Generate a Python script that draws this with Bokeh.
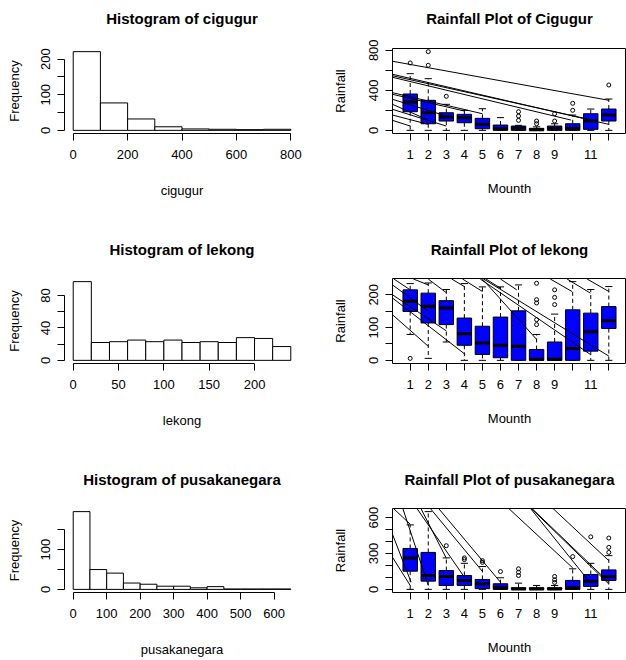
from bokeh.plotting import figure
from bokeh.layouts import column, row
from bokeh.models import FixedTicker, Range1d
from bokeh.core.properties import value
from bokeh.embed import file_html
from bokeh.resources import INLINE

FONT = "Liberation Sans"

# ---------------- data ----------------
months = list(range(1, 13))

# histograms (breaks and counts)
cig_breaks = [0, 100, 200, 300, 400, 500, 600, 700, 800]
cig_counts = [221, 77, 32, 10, 4, 3, 2, 3]
lek_breaks = [0, 20, 40, 60, 80, 100, 120, 140, 160, 180, 200, 220, 240]
lek_counts = [97, 22, 23, 25, 23, 25, 22, 23, 22, 28, 27, 17]
pus_breaks = [0, 50, 100, 150, 200, 250, 300, 350, 400, 450, 500, 550, 600, 650]
pus_counts = [196, 50, 41, 16, 13, 8, 8, 4, 7, 1, 1, 1, 1]

# boxplot statistics per month
cig_q1 = [186, 66, 93, 76, 16, 0, 0, 0, 0, 0, 10, 93]
cig_med = [283, 176, 133, 126, 60, 17, 20, 5, 20, 20, 93, 153]
cig_q3 = [363, 300, 176, 160, 120, 53, 43, 20, 43, 66, 166, 213]
cig_lo = [0, 0, 0, 0, 0, 0, 0, 0, 0, 0, 0, 0]
cig_hi = [566, 516, 260, 200, 216, 127, 50, 35, 66, 153, 213, 313]
cig_out_m = [1, 2, 2, 3, 7, 7, 7, 8, 8, 9, 9, 10, 10, 12]
cig_out_v = [673, 650, 786, 340, 186, 143, 100, 93, 66, 166, 93, 270, 200, 453]

lek_q1 = [149, 114, 109, 46, 18, 8, 0, 0, 0, 0, 28, 97]
lek_med = [180, 165, 160, 81, 53, 46, 43, 3, 3, 36, 87, 121]
lek_q3 = [215, 205, 182, 129, 104, 132, 151, 33, 56, 154, 144, 164]
lek_lo = [79, 6, 56, 0, 0, 0, 0, 0, 0, 0, 0, 0]
lek_hi = [234, 236, 216, 234, 224, 224, 230, 79, 141, 240, 216, 225]
lek_out_m = [1, 8, 8, 8, 8, 8, 9, 9, 9]
lek_out_v = [6, 235, 185, 175, 124, 109, 215, 192, 170]

pus_q1 = [152, 69, 33, 33, 6, 0, 0, 0, 0, 0, 25, 75]
pus_med = [263, 116, 108, 75, 47, 14, 4, 4, 4, 14, 69, 108]
pus_q3 = [342, 309, 157, 116, 83, 47, 14, 14, 14, 75, 124, 163]
pus_lo = [0, 0, 0, 0, 0, 0, 0, 0, 0, 0, 0, 0]
pus_hi = [539, 650, 263, 218, 191, 97, 52, 33, 33, 172, 218, 282]
pus_out_m = [3, 4, 4, 5, 5, 6, 7, 7, 7, 9, 9, 9, 10, 11, 12, 12, 12]
pus_out_v = [365, 263, 249, 240, 226, 149, 172, 143, 116, 108, 80, 58, 274, 439, 429, 351, 309]

# stray straight lines drawn over the boxplots (x0, y0, x1, y1 in data units)
cig_lx0 = [0.02, 0.02, 0.02, 0.02, 0.02, 0.02, 0.02, 0.02, 0.02, 0.02, 0.02]
cig_ly0 = [690, 560, 545, 530, 376, 360, 310, 260, 210, 153, 100]
cig_lx1 = [12.0, 12.0, 11.4, 9.9, 5.0, 4.0, 3.0, 2.0, 3.0, 2.0, 1.0]
cig_ly1 = [300, 60, 90, 103, 166, 193, 143, 103, 43, 60, 43]

lek_lx0 = [0.1, 0.02, 0.02, 0.02, 0.02, 1.18, 2.0, 3.3, 3.9, 5.0, 4.88, 5.07, 5.2, 6.0, 8.76, 9.69, 10.8]
lek_ly0 = [248, 230, 200, 190, 139, 248, 248, 248, 248, 248, 248, 248, 248, 248, 248, 248, 248]
lek_lx1 = [1.0, 2.0, 3.0, 4.05, 2.0, 2.0, 3.03, 4.0, 5.0, 8.0, 10.98, 12.0, 6.0, 6.9, 9.96, 10.98, 12.0]
lek_ly1 = [215, 150, 90, 18, 43, 230, 205, 225, 210, 64, 18, 13, 220, 215, 210, 205, 210]

pus_lx0 = [0.07, 0.02, 0.02, 0.59, 1.37, 1.59, 2.11, 2.57, 6.45, 7.66, 7.70, 7.74, 8.9]
pus_ly0 = [677, 460, 268, 677, 677, 677, 677, 677, 677, 677, 677, 677, 677]
pus_lx1 = [1.0, 1.05, 1.0, 2.0, 4.0, 3.0, 5.0, 6.0, 10.0, 11.0, 12.0, 12.0, 12.0]
pus_ly1 = [545, 60, 33, 33, 102, 260, 150, 60, 180, 50, 45, 60, 240]

# axis ticks and which ticks carry a label
cig_hx_ticks = [0, 200, 400, 600, 800]
cig_hy_ticks = [0, 50, 100, 150, 200]
cig_hy_labels = [0, 100, 200]
lek_hx_ticks = [0, 50, 100, 150, 200]
lek_hy_ticks = [0, 20, 40, 60, 80]
lek_hy_labels = [0, 40, 80]
pus_hx_ticks = [0, 100, 200, 300, 400, 500, 600]
pus_hy_ticks = [0, 50, 100, 150]
pus_hy_labels = [0, 100]

cig_by_ticks = [0, 200, 400, 600, 800]
cig_by_labels = [0, 400, 800]
lek_by_ticks = [0, 50, 100, 150, 200]
lek_by_labels = [0, 100, 200]
pus_by_ticks = [0, 100, 200, 300, 400, 500, 600]
pus_by_labels = [0, 300, 600]
box_x_labels = [1, 2, 3, 4, 5, 6, 7, 8, 9, 11]

# ---------------- layout (rows) ----------------
# tband: height of the strip holding the title; the main figure sits below it
ROWS = [dict(tband=36, height=189, top=12, bottom=92),
        dict(tband=47, height=183, top=6, bottom=92),
        dict(tband=48, height=157, top=5, bottom=68)]


def title_strip(text, r, left, right):
    t = figure(width=313, height=r["tband"], x_range=Range1d(0, 1), y_range=Range1d(0, 1),
               output_backend="svg", toolbar_location=None,
               min_border_left=left, min_border_right=right,
               min_border_top=0, min_border_bottom=0)
    t.axis.visible = False
    t.xgrid.visible = False
    t.ygrid.visible = False
    t.outline_line_color = None
    t.title.text = ""
    t.text(x=[0.5], y=[0.5], text=[text], text_align="center", text_baseline="middle",
           text_font=value(FONT), text_font_size="15px", text_font_style="bold",
           text_color="black")
    return t


def base_axis(ax, ticks, shown, bounds):
    ax.ticker = FixedTicker(ticks=ticks)
    ax.major_label_overrides = {t: (str(t) if t in shown else "") for t in ticks}
    ax.bounds = bounds
    ax.axis_line_color = "black"
    ax.axis_line_width = 1
    ax.major_tick_line_color = "black"
    ax.major_tick_out = 7
    ax.major_tick_in = 0
    ax.minor_tick_line_color = None
    ax.major_label_text_font = FONT
    ax.major_label_text_font_size = "13px"
    ax.major_label_text_color = "black"
    ax.axis_label_text_font = FONT
    ax.axis_label_text_font_size = "13px"
    ax.axis_label_text_font_style = "normal"
    ax.axis_label_text_color = "black"


def make_fig(xr, yr, r, left, right):
    p = figure(width=313, height=r["height"], x_range=xr, y_range=yr,
               output_backend="svg", toolbar_location=None,
               min_border_left=left, min_border_right=right,
               min_border_top=r["top"], min_border_bottom=r["bottom"])
    p.title.text = ""
    p.xgrid.visible = False
    p.ygrid.visible = False
    p.background_fill_color = "white"
    p.border_fill_color = "white"
    return p


def histogram(name, breaks, counts, xt, yt, yl, r):
    lo, hi = breaks[0], breaks[-1]
    span = hi - lo
    M = max(counts)
    p = make_fig(Range1d(lo - 0.04 * span, hi + 0.04 * span),
                 Range1d(-0.04 * M, 1.04 * M), r, 64, 14)
    p.outline_line_color = None
    p.quad(left=breaks[:-1], right=breaks[1:], bottom=0, top=counts,
           fill_color="white", line_color="black", line_width=1)
    base_axis(p.below[0], xt, xt, (xt[0], xt[-1]))
    base_axis(p.left[0], yt, yl, (yt[0], yt[-1]))
    p.below[0].axis_label = name
    p.left[0].axis_label = "Frequency"
    p.below[0].major_label_standoff = 9
    p.below[0].axis_label_standoff = 21
    p.left[0].major_label_orientation = "vertical"
    p.left[0].major_label_standoff = 7
    p.left[0].axis_label_standoff = 17
    return column(title_strip("Histogram of " + name, r, 64, 14), p)


def boxplot(title, q1, med, q3, lo, hi, om, ov, lx0, ly0, lx1, ly1, yt, yl, r):
    M = max(max(hi), max(ov))
    p = make_fig(Range1d(0.02, 12.98), Range1d(-0.04 * M, 1.04 * M), r, 79, 0)
    p.outline_line_color = "black"
    p.outline_line_width = 1
    w = 0.4
    c = 0.2
    xl = [m - w for m in months]
    xr = [m + w for m in months]
    # whiskers
    p.segment(x0=months, y0=q3, x1=months, y1=hi, line_color="black", line_dash="4 3")
    p.segment(x0=months, y0=q1, x1=months, y1=lo, line_color="black", line_dash="4 3")
    p.segment(x0=[m - c for m in months], y0=hi, x1=[m + c for m in months], y1=hi,
              line_color="black")
    p.segment(x0=[m - c for m in months], y0=lo, x1=[m + c for m in months], y1=lo,
              line_color="black")
    # boxes and medians
    p.quad(left=xl, right=xr, bottom=q1, top=q3, fill_color="#0000FF",
           line_color="black", line_width=1)
    p.segment(x0=xl, y0=med, x1=xr, y1=med, line_color="black", line_width=3)
    # outliers
    p.scatter(x=om, y=ov, marker="circle", size=4, fill_color=None,
              line_color="black", line_width=1)
    # stray lines
    p.segment(x0=lx0, y0=ly0, x1=lx1, y1=ly1, line_color="black", line_width=1)
    base_axis(p.below[0], months, box_x_labels, (1, 12))
    base_axis(p.left[0], yt, yl, (yt[0], yt[-1]))
    p.below[0].axis_label = "Mounth"
    p.left[0].axis_label = "Rainfall"
    p.below[0].major_label_standoff = 9
    p.below[0].axis_label_standoff = 19
    p.left[0].major_label_orientation = "vertical"
    p.left[0].major_label_standoff = 7
    p.left[0].axis_label_standoff = 19
    return column(title_strip(title, r, 79, 0), p)


h1 = histogram("cigugur", cig_breaks, cig_counts, cig_hx_ticks, cig_hy_ticks, cig_hy_labels, ROWS[0])
b1 = boxplot("Rainfall Plot of Cigugur", cig_q1, cig_med, cig_q3, cig_lo, cig_hi,
             cig_out_m, cig_out_v, cig_lx0, cig_ly0, cig_lx1, cig_ly1,
             cig_by_ticks, cig_by_labels, ROWS[0])
h2 = histogram("lekong", lek_breaks, lek_counts, lek_hx_ticks, lek_hy_ticks, lek_hy_labels, ROWS[1])
b2 = boxplot("Rainfall Plot of lekong", lek_q1, lek_med, lek_q3, lek_lo, lek_hi,
             lek_out_m, lek_out_v, lek_lx0, lek_ly0, lek_lx1, lek_ly1,
             lek_by_ticks, lek_by_labels, ROWS[1])
h3 = histogram("pusakanegara", pus_breaks, pus_counts, pus_hx_ticks, pus_hy_ticks, pus_hy_labels, ROWS[2])
b3 = boxplot("Rainfall Plot of pusakanegara", pus_q1, pus_med, pus_q3, pus_lo, pus_hi,
             pus_out_m, pus_out_v, pus_lx0, pus_ly0, pus_lx1, pus_ly1,
             pus_by_ticks, pus_by_labels, ROWS[2])

layout = column(row(h1, b1), row(h2, b2), row(h3, b3))

open("out.html", "w").write(file_html(layout, INLINE, title="Rainfall"))
